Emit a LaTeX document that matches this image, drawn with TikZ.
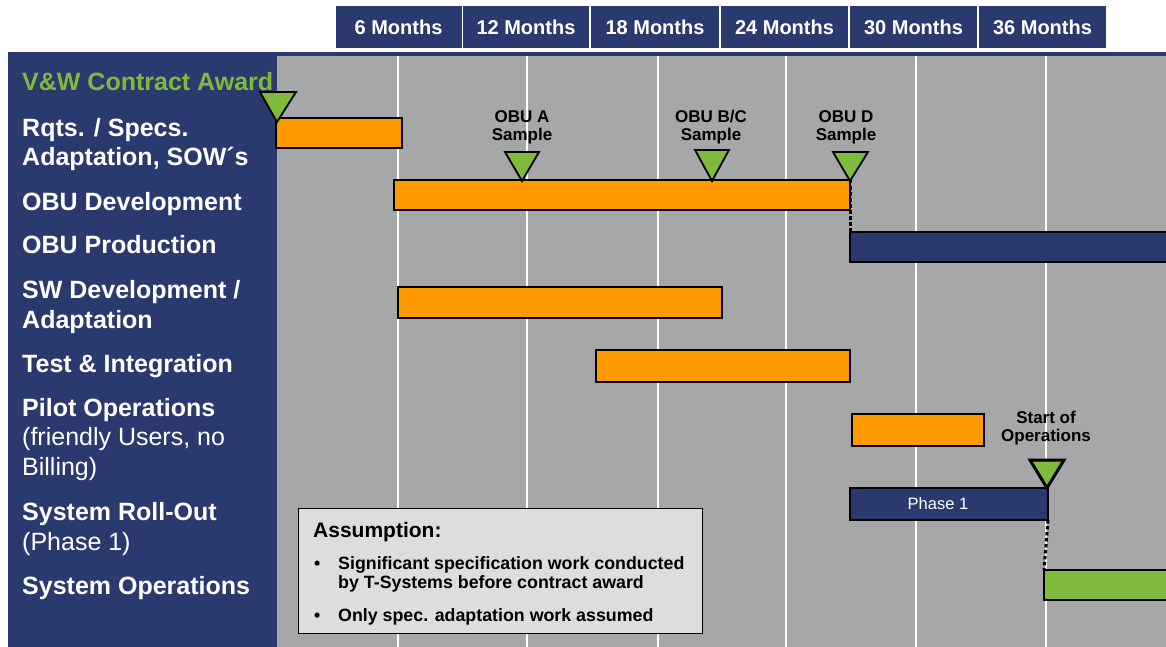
\documentclass[tikz,border=0pt]{standalone}
\usepackage{fontspec}
\setmainfont{Liberation Sans}
\definecolor{navy}{RGB}{43,58,110}
\definecolor{bargreen}{RGB}{128,186,60}
\definecolor{barorange}{RGB}{255,153,0}
\definecolor{chartgray}{RGB}{166,167,169}
\definecolor{notegray}{RGB}{220,221,223}
\begin{document}
\begin{tikzpicture}[x=1pt,y=-1pt,
  bar/.style={draw=black, line width=1.4pt, anchor=north west, inner sep=0pt, outer sep=0pt},
  hdr/.style={fill=navy, text=white, minimum width=126pt, minimum height=42pt, inner sep=0pt,
    font=\fontsize{20}{24}\selectfont\bfseries},
  rowlabel/.style={anchor=base west, text=white, inner sep=0pt, align=left,
    font=\fontsize{25}{29.5}\selectfont\bfseries},
  mslabel/.style={anchor=base, inner sep=0pt, align=center,
    font=\fontsize{17}{18}\selectfont\bfseries},
  ms/.style={draw=black, line width=1.8pt, fill=bargreen, line join=miter},
  dotline/.style={draw=black, line width=3pt, dash pattern=on 3.5pt off 2.5pt},
  notetext/.style={anchor=base west, inner sep=0pt, font=\fontsize{17.8}{19}\selectfont\bfseries}
]
\useasboundingbox (0,0) rectangle (1166,647);
\fill[white] (0,0) rectangle (1166,647);
% frame
\fill[navy] (8,52) rectangle (1166,56);
\fill[navy] (8,52) rectangle (277,647);
\fill[chartgray] (277,56) rectangle (1166,647);
\foreach \x in {398,527,658,786,916,1046}
  \draw[white, line width=2pt] (\x,56) -- (\x,647);
% header
\node[hdr] (m6)  at (398.5,27) {6 Months};
\node[hdr] (m12) at (526,27) {12 Months};
\node[hdr, minimum width=128pt] (m18) at (655,27) {18 Months};
\node[hdr, minimum width=127pt] (m24) at (784.5,27) {24 Months};
\node[hdr, minimum width=127pt] (m30) at (913.5,27) {30 Months};
\node[hdr, minimum width=127pt] (m36) at (1042.5,27) {36 Months};
% row labels (anchored at the baseline of the last line)
\node[rowlabel, text=bargreen] (laward) at (22,91) {V\&W Contract Award};
\node[rowlabel] (lrqts) at (22,166) {Rqts. / Specs.\\Adaptation, SOW´s};
\node[rowlabel] (lobudev) at (22,210) {OBU Development};
\node[rowlabel] (lobuprod) at (22,253) {OBU Production};
\node[rowlabel] (lsw) at (22,328) {SW Development /\\Adaptation};
\node[rowlabel] (ltest) at (22,372) {Test \& Integration};
\node[rowlabel] (lpilot) at (22,475) {Pilot Operations\\\mdseries(friendly Users, no\\\mdseries Billing)};
\node[rowlabel] (lroll) at (22,550) {System Roll-Out\\\mdseries(Phase 1)};
\node[rowlabel] (lops) at (22,594) {System Operations};
% bars
\node[bar, fill=barorange, minimum width=126pt, minimum height=30pt] (rqts) at (276,118) {};
\node[bar, fill=barorange, minimum width=456pt, minimum height=30pt] (obudev) at (394,180) {};
\node[bar, fill=navy, minimum width=330pt, minimum height=30pt] (obuprod) at (850,232) {};
\node[bar, fill=barorange, minimum width=324pt, minimum height=31pt] (swdev) at (398,287) {};
\node[bar, fill=barorange, minimum width=254pt, minimum height=32pt] (test) at (596,350) {};
\node[bar, fill=barorange, minimum width=132pt, minimum height=32pt] (pilot) at (852,414) {};
\node[bar, fill=navy, minimum width=198pt, minimum height=32pt,
  label={[xshift=-11pt, text=white, font=\fontsize{16.5}{18}\selectfont]center:Phase 1}] (rollout) at (850,488) {};
\node[bar, fill=bargreen, minimum width=130pt, minimum height=30pt] (ops) at (1044,570) {};
% dependencies
\draw[dotline] (obudev.north east) -- (obuprod.north west);
\draw[dotline] (rollout.south east) -- (ops.north west);
% milestones
\coordinate (tAward) at (277,122);
\coordinate (tA) at (522,181);
\coordinate (tBC) at (712,181);
\coordinate (tD) at (850,181);
\coordinate (tStart) at (1047,488);
\draw[ms] (tAward) -- ++(-17,-30) -- ++(36,0) -- cycle;
\draw[ms] (tA) -- ++(-17,-29) -- ++(34,0) -- cycle;
\draw[ms] (tBC) -- ++(-17,-31) -- ++(34,0) -- cycle;
\draw[ms] (tD) -- ++(-17,-29) -- ++(35,0) -- cycle;
\draw[ms, line width=3pt] (tStart) -- ++(-17,-28) -- ++(34,0) -- cycle;
\node[mslabel] (lA) at (522,141) {OBU A\\Sample};
\node[mslabel] (lBC) at (711,141) {OBU B/C\\Sample};
\node[mslabel] (lD) at (846,141) {OBU D\\Sample};
\node[mslabel] (lStart) at (1046,441) {Start of\\Operations};
% assumption box
\node[draw=black, line width=1.4pt, fill=notegray, anchor=north west, inner sep=0pt,
  minimum width=404pt, minimum height=125pt] (note) at (298,508) {};
\node[anchor=base west, inner sep=0pt, font=\fontsize{21}{24}\selectfont\bfseries] (ntitle) at (313,537.5) {Assumption:};
\node[notetext] (nb1) at (314,569) {•};
\node[notetext] (nt1) at (338,569) {Significant specification work conducted};
\node[notetext] (nt2) at (338,588) {by T-Systems before contract award};
\node[notetext] (nb2) at (314,621) {•};
\node[notetext] (nt3) at (338,621) {Only spec. adaptation work assumed};
\end{tikzpicture}
\end{document}
